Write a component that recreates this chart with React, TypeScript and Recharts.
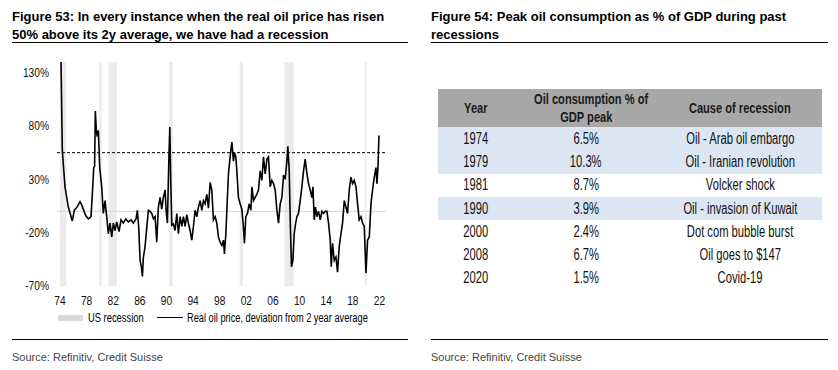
import React from "react";
import {
  LineChart,
  Line,
  XAxis,
  YAxis,
  ReferenceArea,
  ReferenceLine,
} from "recharts";

const dates = [
  1974.15, 1974.35, 1974.75, 1975.25, 1975.85, 1976.15, 1976.56, 1977.0, 1977.26, 1977.86,
  1978.26, 1978.66, 1978.92, 1979.07, 1979.2, 1979.31, 1979.46, 1979.6, 1979.76, 1979.97,
  1980.27, 1980.51, 1980.77, 1981.02, 1981.26, 1981.52, 1981.77, 1982.02, 1982.27, 1982.53,
  1982.87, 1983.17, 1983.52, 1983.88, 1984.27, 1984.68, 1985.02, 1985.43, 1985.62, 1985.83,
  1986.03, 1986.23, 1986.38, 1986.53, 1986.78, 1987.04, 1987.28, 1987.53, 1987.79, 1988.03,
  1988.29, 1988.54, 1988.78, 1989.04, 1989.29, 1989.53, 1989.79, 1989.94, 1990.14, 1990.35,
  1990.5, 1990.65, 1990.8, 1991.04, 1991.29, 1991.55, 1991.79, 1992.05, 1992.3, 1992.54,
  1992.8, 1993.05, 1993.29, 1993.55, 1993.8, 1994.05, 1994.3, 1994.56, 1994.8, 1995.05,
  1995.31, 1995.55, 1995.8, 1996.06, 1996.3, 1996.56, 1996.81, 1997.05, 1997.31, 1997.56,
  1997.8, 1998.06, 1998.32, 1998.56, 1998.71, 1998.92, 1999.11, 1999.31, 1999.56, 1999.82,
  2000.06, 2000.21, 2000.42, 2000.57, 2000.81, 2001.07, 2001.32, 2001.56, 2001.71, 2001.92,
  2002.17, 2002.42, 2002.68, 2002.83, 2003.07, 2003.32, 2003.58, 2003.82, 2004.08, 2004.33,
  2004.57, 2004.83, 2005.09, 2005.32, 2005.58, 2005.83, 2006.08, 2006.33, 2006.59, 2006.83,
  2007.08, 2007.34, 2007.58, 2007.83, 2008.09, 2008.23, 2008.44, 2008.59, 2008.78, 2008.99,
  2009.19, 2009.38, 2009.59, 2009.83, 2010.09, 2010.34, 2010.59, 2010.84, 2011.1, 2011.34,
  2011.59, 2011.85, 2012.0, 2012.2, 2012.39, 2012.6, 2012.84, 2013.1, 2013.35, 2013.59,
  2013.85, 2014.1, 2014.35, 2014.6, 2014.75, 2014.95, 2015.2, 2015.46, 2015.7, 2015.95,
  2016.21, 2016.45, 2016.71, 2016.96, 2017.2, 2017.46, 2017.71, 2017.95, 2018.21, 2018.47,
  2018.71, 2018.96, 2019.22, 2019.46, 2019.71, 2019.97, 2020.21, 2020.47, 2020.72, 2020.96,
  2021.22, 2021.47, 2021.62, 2021.77, 2021.92,
];
const deviation = [
  141, 57, 23, 4, -9, 1, 4, 9, 6, -4,
  -7, -5, 23, 41, 42, 94, 76, 70, 76, 41,
  23, -2, 10, -5, -21, -11, -24, -11, -18, -10,
  -19, -8, -11, -7, -10, -8, -11, -7, 1, -15,
  -46, -52, -61, -43, -33, -15, 1, 0, -2, -7,
  -5, -29, 4, 13, 2, 13, 20, 1, -11, 48,
  79, 26, -13, -12, -18, -2, -21, -5, -14, -5,
  -14, -3, -11, -18, -27, -14, 1, -5, 4, 10,
  1, 10, 7, 16, 3, 27, 20, -8, -5, -11,
  -24, -29, -32, -27, -40, -21, 7, 35, 51, 65,
  47, 55, 51, 38, 13, 7, 2, -15, -30, -5,
  -2, 7, 1, 23, 10, 13, 16, 20, 38, 29,
  51, 35, 49, 51, 23, 29, 26, 20, 1, -11,
  7, 13, 34, 30, 47, 61, 38, -8, -52, -46,
  -21, -12, -5, -2, 10, 23, 38, 49, 35, 26,
  20, 13, 23, -8, 4, -5, 0, -8, 0, -2,
  0, 0, -11, -27, -52, -30, -46, -43, -57, -33,
  -21, -11, 10, 4, -2, 20, 32, 26, 29, 23,
  7, -8, -5, -11, -14, -58, -27, -24, 7, 20,
  32, 41, 26, 41, 71,
];
const recessionStart = [1974.0, 1979.9, 1981.28, 1990.37, 2001.0, 2007.7, 2019.8];
const recessionEnd = [1974.95, 1980.27, 1982.55, 1990.95, 2001.5, 2009.1, 2020.05];
const threshold = 55;
const yTicks = [-70, -20, 30, 80, 130];
const xTicks = [1974, 1978, 1982, 1986, 1990, 1994, 1998, 2002, 2006, 2010, 2014, 2018, 2022];

// Figure 54 table
const tableYears = ["1974", "1979", "1981", "1990", "2000", "2008", "2020"];
const tableShares = ["6.5%", "10.3%", "8.7%", "3.9%", "2.4%", "6.7%", "1.5%"];
const tableCauses = [
  "Oil - Arab oil embargo",
  "Oil - Iranian revolution",
  "Volcker shock",
  "Oil - invasion of Kuwait",
  "Dot com bubble burst",
  "Oil goes to $147",
  "Covid-19",
];
const highlighted = ["1974", "1979", "1990"];

const chartData = dates.map((t, i) => ({ t, v: deviation[i] }));

const FONT = "'Liberation Sans', Arial, sans-serif";

const YTick = (props: any) => {
  const { x, y, payload } = props;
  return (
    <text
      transform={`translate(${x},${y}) scale(0.85,1)`}
      textAnchor="end"
      dy="0.35em"
      fontSize={12}
      fill="#111"
      fontFamily={FONT}
    >
      {payload.value}%
    </text>
  );
};

const XTick = (props: any) => {
  const { x, y, payload } = props;
  return (
    <text
      transform={`translate(${x},${y}) scale(0.85,1)`}
      textAnchor="middle"
      dy="0.71em"
      fontSize={12}
      fill="#111"
      fontFamily={FONT}
    >
      {String(payload.value).slice(2)}
    </text>
  );
};

const narrow = (s: number): React.CSSProperties => ({
  display: "inline-block",
  transform: `scaleX(${s})`,
  whiteSpace: "nowrap",
});

const abs = (style: React.CSSProperties): React.CSSProperties => ({
  position: "absolute",
  ...style,
});

export default function App() {
  return (
    <div
      style={{
        position: "absolute",
        left: 0,
        top: 0,
        width: 838,
        height: 370,
        background: "#fff",
        fontFamily: FONT,
        color: "#000",
        overflow: "hidden",
      }}
    >
      {/* left panel */}
      <div style={abs({ left: 12, top: 8, fontSize: 13, fontWeight: 700, lineHeight: "18px" })}>
        Figure 53: In every instance when the real oil price has risen
        <br />
        50% above its 2y average, we have had a recession
      </div>
      <div style={abs({ left: 12, top: 42, width: 396, borderTop: "1.5px solid #000" })} />

      <div style={abs({ left: 0, top: 0 })}>
        <LineChart
          width={400}
          height={316}
          data={chartData}
          margin={{ top: 62, right: 14, left: 12, bottom: 0 }}
        >
          {recessionStart.map((s, i) => (
            <ReferenceArea
              key={i}
              x1={s}
              x2={recessionEnd[i]}
              y1={-70}
              y2={140}
              fill="#ebebeb"
              fillOpacity={1}
              stroke="none"
            />
          ))}
          <ReferenceLine y={0} stroke="#d4d4d4" strokeWidth={1} />
          <ReferenceLine y={threshold} stroke="#000" strokeDasharray="3 2" strokeWidth={1} />
          <XAxis
            dataKey="t"
            type="number"
            domain={[1973.55, 2022.98]}
            ticks={xTicks}
            interval={0}
            axisLine={false}
            tickLine={false}
            tick={<XTick />}
            tickMargin={4}
            height={30}
            allowDataOverflow
          />
          <YAxis
            type="number"
            domain={[-70, 140]}
            ticks={yTicks}
            interval={0}
            axisLine={false}
            tickLine={false}
            tick={<YTick />}
            width={45}
            allowDataOverflow
          />
          <Line
            type="linear"
            dataKey="v"
            stroke="#000"
            strokeWidth={1.6}
            dot={false}
            isAnimationActive={false}
          />
        </LineChart>
      </div>

      {/* legend */}
      <div style={abs({ left: 58, top: 315, width: 25, height: 6, background: "#d9d9d9" })} />
      <div style={abs({ left: 88, top: 310, fontSize: 12, lineHeight: "16px", transformOrigin: "left center", ...narrow(0.78) })}>
        US recession
      </div>
      <div style={abs({ left: 157, top: 317, width: 26, borderTop: "1.5px solid #000" })} />
      <div style={abs({ left: 187, top: 310, fontSize: 12, lineHeight: "16px", transformOrigin: "left center", ...narrow(0.77) })}>
        Real oil price, deviation from 2 year average
      </div>

      <div style={abs({ left: 12, top: 339, width: 396, borderTop: "1.5px solid #000" })} />
      <div style={abs({ left: 12, top: 350, fontSize: 11, lineHeight: "14px", color: "#444" })}>
        Source: Refinitiv, Credit Suisse
      </div>

      {/* right panel */}
      <div style={abs({ left: 431, top: 8, fontSize: 13, fontWeight: 700, lineHeight: "18px" })}>
        Figure 54: Peak oil consumption as % of GDP during past
        <br />
        recessions
      </div>
      <div style={abs({ left: 431, top: 42, width: 397, borderTop: "1.5px solid #000" })} />

      <table
        style={abs({
          left: 438,
          top: 89,
          width: 384,
          borderCollapse: "collapse",
          tableLayout: "fixed",
          fontFamily: FONT,
        })}
      >
        <colgroup>
          <col style={{ width: 76 }} />
          <col style={{ width: 144 }} />
          <col style={{ width: 164 }} />
        </colgroup>
        <thead>
          <tr style={{ height: 38, background: "#a8a8a8" }}>
            {["Year", "Oil consumption % of|GDP peak", "Cause of recession"].map((h) => (
              <th
                key={h}
                style={{
                  padding: 0,
                  fontSize: 15,
                  fontWeight: 700,
                  lineHeight: "18px",
                  color: "#1a1a1a",
                  textAlign: "center",
                }}
              >
                {h.split("|").map((part, j) => (
                  <div key={j}>
                    <span style={narrow(0.74)}>{part}</span>
                  </div>
                ))}
              </th>
            ))}
          </tr>
        </thead>
        <tbody>
          {tableYears.map((yr, i) => (
            <tr
              key={yr}
              style={{
                height: 23.3,
                background: highlighted.includes(yr) ? "#dce6f2" : "#fff",
              }}
            >
              {[yr, tableShares[i], tableCauses[i]].map((c, j) => (
                <td
                  key={j}
                  style={{
                    padding: 0,
                    fontSize: 16,
                    lineHeight: "18px",
                    textAlign: "center",
                    color: "#111",
                  }}
                >
                  <span style={narrow(0.7)}>{c}</span>
                </td>
              ))}
            </tr>
          ))}
        </tbody>
      </table>

      <div style={abs({ left: 431, top: 339, width: 397, borderTop: "1.5px solid #000" })} />
      <div style={abs({ left: 431, top: 350, fontSize: 11, lineHeight: "14px", color: "#444" })}>
        Source: Refinitiv, Credit Suisse
      </div>
    </div>
  );
}
